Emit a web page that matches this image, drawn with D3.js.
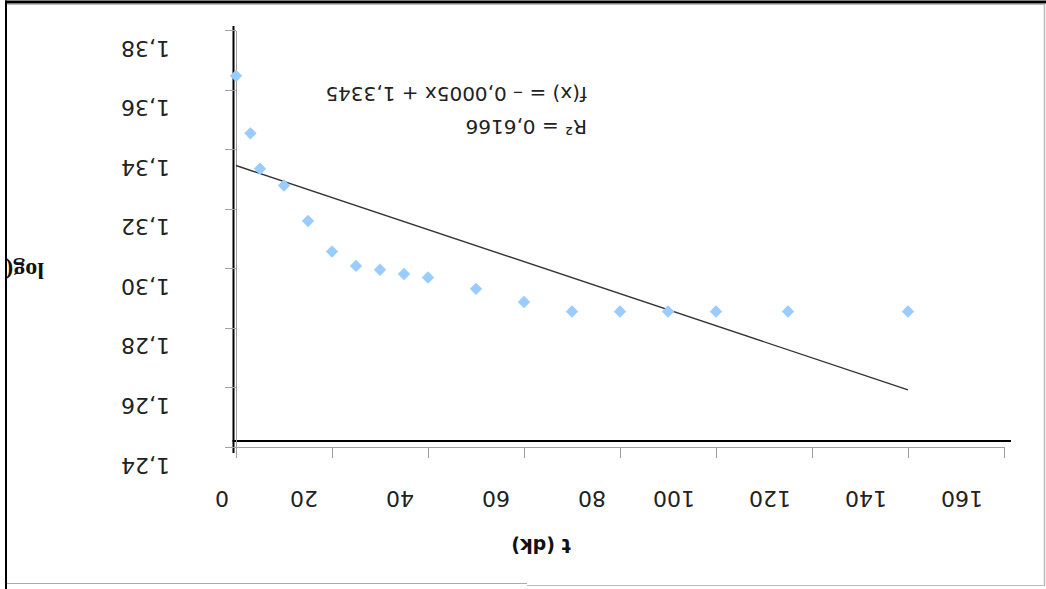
<!DOCTYPE html>
<html>
<head>
<meta charset="utf-8">
<script src="https://cdn.jsdelivr.net/npm/d3@7/dist/d3.min.js"></script>
<style>
html,body{margin:0;padding:0;background:#fff;}
svg{display:block;}
</style>
</head>
<body>
<svg id="chart" width="1046" height="589"></svg>
<script>
// ---- data ----
const tValues   = [0, 3, 5, 10, 15, 20, 25, 30, 35, 40, 50, 60, 70, 80, 90, 100, 115, 140];
const logValues = [1.3646, 1.3453, 1.3334, 1.3278, 1.3159, 1.3056, 1.3008, 1.2995, 1.2981, 1.2969,
                   1.2931, 1.2887, 1.2855, 1.2855, 1.2855, 1.2855, 1.2855, 1.2855];
const xTicks = [0, 20, 40, 60, 80, 100, 120, 140, 160];
const xTickLabels = ["0", "20", "40", "60", "80", "100", "120", "140", "160"];
const yTicks = [1.24, 1.26, 1.28, 1.30, 1.32, 1.34, 1.36, 1.38];
const yTickLabels = ["1,24", "1,26", "1,28", "1,30", "1,32", "1,34", "1,36", "1,38"];
const trendRange = [0, 140];
const trendSlope = -0.000538;
const trendIntercept = 1.3345;
const trendLabels = ["f(x) = \u2013 0,0005x + 1,3345", "R\u00b2 = 0,6166"];
const xTitle = "t (dk)";
const yTitle = "log(";

const svg = d3.select("#chart");
const W = 1046, H = 589;

const x = d3.scaleLinear().domain([0, 160]).range([236, 1004]);
const y = d3.scaleLinear().domain([1.24, 1.38]).range([447, 30]);

// frame
svg.append("rect").attr("x", 5).attr("y", 0.5).attr("width", W - 5).attr("height", 3).attr("fill", "#000");
svg.append("line").attr("x1", 7).attr("x2", 1044).attr("y1", 4.5).attr("y2", 4.5).attr("stroke", "#bbb").attr("stroke-width", 1);
svg.append("rect").attr("x", 5).attr("y", 0.5).attr("width", 2).attr("height", H).attr("fill", "#000");
svg.append("line").attr("x1", 1044.5).attr("x2", 1044.5).attr("y1", 4).attr("y2", 585.5).attr("stroke", "#bbb").attr("stroke-width", 1.5);
svg.append("line").attr("x1", 7).attr("x2", 527).attr("y1", 583.5).attr("y2", 583.5).attr("stroke", "#aaa").attr("stroke-width", 1);
svg.append("line").attr("x1", 527).attr("x2", 1045).attr("y1", 585.5).attr("y2", 585.5).attr("stroke", "#bbb").attr("stroke-width", 1);

// black offset lines
svg.append("line").attr("x1", 233.5).attr("x2", 233.5).attr("y1", 26).attr("y2", 453).attr("stroke", "#000").attr("stroke-width", 2);
svg.append("line").attr("x1", 232.5).attr("x2", 1011).attr("y1", 441).attr("y2", 441).attr("stroke", "#000").attr("stroke-width", 2);

// axes (gray)
const gx = svg.append("g").attr("transform", "translate(0,447)")
  .call(d3.axisBottom(x).tickValues(xTicks).tickSize(11).tickSizeOuter(0).tickFormat(""));
const gy = svg.append("g").attr("transform", "translate(236,0)")
  .call(d3.axisLeft(y).tickValues(yTicks).tickSize(11).tickSizeOuter(0).tickFormat(""));
[gx, gy].forEach(g => {
  g.selectAll("path, line").attr("stroke", "#a0a0a0").attr("stroke-width", 1).attr("shape-rendering", "crispEdges");
});

// helper: text rotated 180 degrees about (px,py)
function rotText(str, px, py, anchor, size, weight, family, color) {
  return svg.append("text")
    .attr("transform", `translate(${px},${py}) rotate(180)`)
    .attr("text-anchor", anchor)
    .attr("dominant-baseline", "central")
    .attr("font-family", family)
    .attr("font-size", size)
    .attr("font-weight", weight)
    .attr("fill", color)
    .text(str);
}

// x tick labels (visible centre sits one label-width left of the tick)
xTicks.forEach((v, i) => {
  const t = rotText(xTickLabels[i], 0, 0, "start", 22, "normal", "DejaVu Sans", "#222");
  const w = t.node().getComputedTextLength();
  t.attr("transform", `translate(${x(v) - w / 2},498.5) rotate(180)`);
});

// y tick labels (right edge fixed)
yTicks.forEach((v, i) => {
  rotText(yTickLabels[i], 170, y(v) + 18, "start", 22, "normal", "DejaVu Sans", "#222");
});

// trendline
svg.append("line")
  .attr("x1", x(trendRange[0])).attr("y1", y(trendIntercept + trendSlope * trendRange[0]))
  .attr("x2", x(trendRange[1])).attr("y2", y(trendIntercept + trendSlope * trendRange[1]))
  .attr("stroke", "#333").attr("stroke-width", 1.4);

// points
const sym = d3.symbol().type(d3.symbolDiamond2).size(98);
svg.append("g").selectAll("path").data(tValues).join("path")
  .attr("transform", (d, i) => `translate(${x(d)},${y(logValues[i])})`)
  .attr("d", sym)
  .attr("fill", "#99CCFF");

// trendline labels
rotText(trendLabels[0], 587, 93.5, "start", 20, "normal", "DejaVu Sans", "#222");
rotText(trendLabels[1], 587, 127, "start", 20, "normal", "DejaVu Sans", "#222");

// axis titles
rotText(xTitle, 541, 546, "middle", 19, "bold", "DejaVu Sans", "#111");
rotText(yTitle, 44, 271, "start", 24, "bold", "Liberation Serif", "#111");
</script>
</body>
</html>
